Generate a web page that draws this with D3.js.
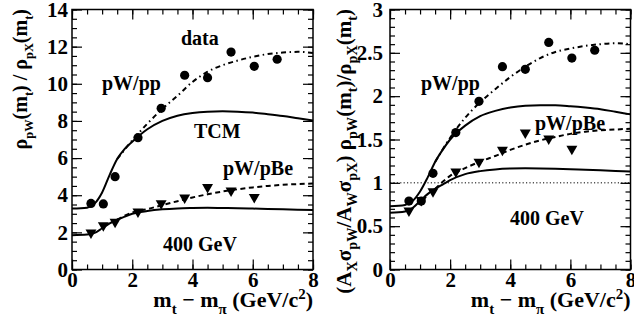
<!DOCTYPE html>
<html><head><meta charset="utf-8">
<script src="https://cdn.jsdelivr.net/npm/d3@7"></script>
</head><body style="margin:0;padding:0;background:#fff">
<svg id="c" width="634" height="329" style="display:block"></svg>
<script>
// ---------- data ----------
const xPts = [0.63, 1.04, 1.43, 2.19, 2.96, 3.74, 4.5, 5.28, 6.05, 6.81];
// left panel: rho ratio
const leftPWppData   = [3.56, 3.53, 5.0, 7.1, 8.68, 10.46, 10.33, 11.71, 10.94, 11.32];
const leftPWpBeData  = [1.98, 2.38, 2.56, 3.11, 3.56, 3.87, 4.43, 4.24, 3.89];
// right panel: normalized ratio
const rightPWppData  = [0.79, 0.79, 1.11, 1.58, 1.94, 2.34, 2.31, 2.62, 2.44, 2.53];
const rightPWpBeData = [0.68, 0.80, 0.90, 1.13, 1.24, 1.38, 1.58, 1.51, 1.39];

// curves (x grid)
const cx = [0, 0.5, 0.75, 1, 1.25, 1.5, 1.75, 2, 2.5, 3, 3.5, 4, 4.5, 5, 5.5, 6, 6.5, 7, 7.5, 8];
const leftTCMpp    = [3.28, 3.33, 3.55, 4.15, 5.1, 5.95, 6.5, 6.88, 7.55, 8.0, 8.28, 8.43, 8.5, 8.52, 8.5, 8.45, 8.36, 8.26, 8.14, 8.02];
const leftTCMpBe   = [1.85, 1.88, 1.97, 2.22, 2.48, 2.68, 2.85, 3.0, 3.15, 3.24, 3.29, 3.31, 3.32, 3.31, 3.3, 3.28, 3.26, 3.24, 3.22, 3.2];
const rightTCMpp   = [0.73, 0.745, 0.79, 0.9, 1.06, 1.24, 1.38, 1.5, 1.66, 1.77, 1.83, 1.87, 1.89, 1.895, 1.895, 1.885, 1.87, 1.85, 1.82, 1.79];
const rightTCMpBe  = [0.655, 0.67, 0.71, 0.79, 0.87, 0.93, 0.98, 1.03, 1.1, 1.135, 1.155, 1.165, 1.168, 1.166, 1.162, 1.157, 1.15, 1.144, 1.137, 1.13];
// data fits (dash-dot pp, dashed pBe)
const fx = [1.5, 2, 2.5, 3, 3.5, 4, 4.5, 5, 5.5, 6, 6.5, 7, 7.5, 8];
const leftFitPP    = [5.95, 6.95, 7.85, 8.65, 9.35, 10.1, 10.65, 11.0, 11.25, 11.45, 11.6, 11.68, 11.72, 11.66];
const leftFitPBe   = [2.68, 3.07, 3.25, 3.47, 3.68, 3.88, 4.05, 4.2, 4.32, 4.42, 4.5, 4.56, 4.6, 4.63];
const rightFitPP   = [1.24, 1.52, 1.75, 1.93, 2.08, 2.22, 2.34, 2.44, 2.51, 2.55, 2.58, 2.6, 2.61, 2.6];
const rightFitPBe  = [0.93, 1.08, 1.17, 1.245, 1.31, 1.38, 1.44, 1.49, 1.53, 1.565, 1.59, 1.605, 1.615, 1.625];

const xMajor = [0, 2, 4, 6, 8];
const leftYMajor = [0, 2, 4, 6, 8, 10, 12, 14];
const rightYMajor = [0, 0.5, 1, 1.5, 2, 2.5, 3];
const rightYLabels = ["0", "0.5", "1", "1.5", "2", "2.5", "3"];

// ---------- drawing ----------
const FONT = '"Liberation Serif"';
const svg = d3.select("#c");

function styleText(sel, fs) {
  return sel.style("font-family", FONT).style("font-weight", "bold").style("font-size", fs + "px").attr("fill", "#000");
}

function rich(t, parts, fs, subR) {
  subR = subR || 0.68;
  let cur = 0;
  parts.forEach(([s, mode]) => {
    const target = mode === "sub" ? fs * 0.3 : mode === "sup" ? -fs * 0.38 : 0;
    const ts = t.append("tspan").text(s).attr("dy", target - cur);
    if (mode !== "n") ts.style("font-size", (fs * subR) + "px");
    cur = target;
  });
}

function panel(opt) {
  const x = d3.scaleLinear().domain([0, 8]).range([opt.x0, opt.x1]);
  const y = d3.scaleLinear().domain([0, opt.ymax]).range([269.5, 9.5]);
  const g = svg.append("g");
  const xMinor = d3.range(0, 8.001, 0.5);
  const yMinor = d3.range(0, opt.ymax + 1e-6, opt.yMinorStep);

  const fs = 21;
  const axes = [
    [d3.axisBottom(x), `translate(0,${y(0)})`, xMinor],
    [d3.axisTop(x), `translate(0,${y(opt.ymax)})`, xMinor],
    [d3.axisLeft(y), `translate(${opt.x0},0)`, yMinor],
    [d3.axisRight(y), `translate(${opt.x1},0)`, yMinor]
  ];
  axes.forEach(([ax, tr, vals]) => {
    const a = g.append("g").attr("transform", tr)
      .call(ax.tickValues(vals).tickSize(-5).tickFormat(""));
    a.select(".domain").remove();
    a.selectAll("text").remove();
    a.selectAll("line").attr("stroke", "#000").attr("stroke-width", 1.2);
  });
  const bx = g.append("g").attr("transform", `translate(0,${y(0)})`)
    .call(d3.axisBottom(x).tickValues(xMajor).tickSize(-10).tickPadding(3).tickFormat(d3.format("d")));
  const tx = g.append("g").attr("transform", `translate(0,${y(opt.ymax)})`)
    .call(d3.axisTop(x).tickValues(xMajor).tickSize(-10).tickFormat(""));
  const ly = g.append("g").attr("transform", `translate(${opt.x0},0)`)
    .call(d3.axisLeft(y).tickValues(opt.yMajor).tickSize(-10).tickPadding(opt.ypad)
      .tickFormat((d, i) => opt.yLabels[i]));
  const ry = g.append("g").attr("transform", `translate(${opt.x1},0)`)
    .call(d3.axisRight(y).tickValues(opt.yMajor).tickSize(-10).tickFormat(""));
  tx.selectAll("text").remove();
  ry.selectAll("text").remove();
  [bx, tx, ly, ry].forEach(a => {
    a.select(".domain").remove();
    a.selectAll("line").attr("stroke", "#000").attr("stroke-width", 1.2);
    styleText(a.selectAll("text"), fs);
  });
  g.append("rect").attr("x", opt.x0).attr("y", y(opt.ymax))
    .attr("width", opt.x1 - opt.x0).attr("height", y(0) - y(opt.ymax))
    .attr("fill", "none").attr("stroke", "#000").attr("stroke-width", 1.5);

  if (opt.refLine) {
    g.append("line").attr("x1", x(0)).attr("x2", x(8)).attr("y1", y(1)).attr("y2", y(1))
      .attr("stroke", "#000").attr("stroke-width", 1).attr("stroke-dasharray", "1.2,2.2");
  }

  const line = d3.line().x(d => x(d[0])).y(d => y(d[1])).curve(d3.curveMonotoneX);
  const zip = (xs, ys) => xs.map((v, i) => [v, ys[i]]);
  g.append("path").attr("d", line(zip(fx, opt.fitPP))).attr("fill", "none")
    .attr("stroke", "#000").attr("stroke-width", 2).attr("stroke-dasharray", "5,3.5,1.5,3.5");
  g.append("path").attr("d", line(zip(fx, opt.fitPBe))).attr("fill", "none")
    .attr("stroke", "#000").attr("stroke-width", 2).attr("stroke-dasharray", "5,3.5");
  g.append("path").attr("d", line(zip(cx, opt.tcmPP))).attr("fill", "none")
    .attr("stroke", "#000").attr("stroke-width", 2);
  g.append("path").attr("d", line(zip(cx, opt.tcmPBe))).attr("fill", "none")
    .attr("stroke", "#000").attr("stroke-width", 2);

  g.selectAll("circle.pp").data(zip(xPts, opt.dataPP)).join("circle")
    .attr("cx", d => x(d[0])).attr("cy", d => y(d[1])).attr("r", 4.6).attr("fill", "#000");
  const tri = d3.symbol().type(d3.symbolTriangle).size(52);
  g.selectAll("path.pbe").data(zip(xPts.slice(0, opt.dataPBe.length), opt.dataPBe)).join("path")
    .attr("class", "pbe").attr("d", tri)
    .attr("transform", d => `translate(${x(d[0])},${y(d[1])}) rotate(180)`).attr("fill", "#000");

  opt.labels.forEach(l => {
    styleText(g.append("text").attr("x", l[1]).attr("y", l[2]).text(l[0]), 20);
  });

  const xt = styleText(g.append("text").attr("x", opt.x1).attr("y", 307).attr("text-anchor", "end"), 22);
  rich(xt, [["m", "n"], ["t", "sub"], [" \u2212 m", "n"], ["\u03c0", "sub"], [" (GeV/c", "n"], ["2", "sup"], [")", "n"]], 22);
}

panel({
  x0: 72, x1: 313, ymax: 14, yMinorStep: 0.5, yMajor: leftYMajor,
  yLabels: leftYMajor.map(String), ypad: 4,
  dataPP: leftPWppData, dataPBe: leftPWpBeData,
  tcmPP: leftTCMpp, tcmPBe: leftTCMpBe, fitPP: leftFitPP, fitPBe: leftFitPBe,
  labels: [["data", 181, 45], ["pW/pp", 102, 90], ["TCM", 194, 138], ["pW/pBe", 223, 175], ["400 GeV", 163, 251]]
});
panel({
  x0: 390, x1: 630.5, ymax: 3, yMinorStep: 0.1, yMajor: rightYMajor,
  yLabels: rightYLabels, ypad: 7, refLine: true,
  dataPP: rightPWppData, dataPBe: rightPWpBeData,
  tcmPP: rightTCMpp, tcmPBe: rightTCMpBe, fitPP: rightFitPP, fitPBe: rightFitPBe,
  labels: [["pW/pp", 421, 90], ["pW/pBe", 535, 130], ["400 GeV", 510, 225]]
});

const lt = styleText(svg.append("text").attr("transform", "translate(27,9) rotate(-90)")
  .attr("text-anchor", "end"), 20);
rich(lt, [["\u03c1", "n"], ["pW", "sub"], ["(m", "n"], ["t", "sub"], [") / \u03c1", "n"], ["pX", "sub"], ["(m", "n"], ["t", "sub"], [")", "n"]], 20, 0.62);

const rt = styleText(svg.append("text").attr("transform", "translate(351,9) rotate(-90)")
  .attr("text-anchor", "end"), 21);
rich(rt, [["(A", "n"], ["X", "sub"], ["\u03c3", "n"], ["pW", "sub"], ["/A", "n"], ["W", "sub"], ["\u03c3", "n"], ["pX", "sub"], [") \u03c1", "n"], ["pW", "sub"], ["(m", "n"], ["t", "sub"], [")/\u03c1", "n"], ["pX", "sub"], ["(m", "n"], ["t", "sub"], [")", "n"]], 21);
</script>
</body></html>
